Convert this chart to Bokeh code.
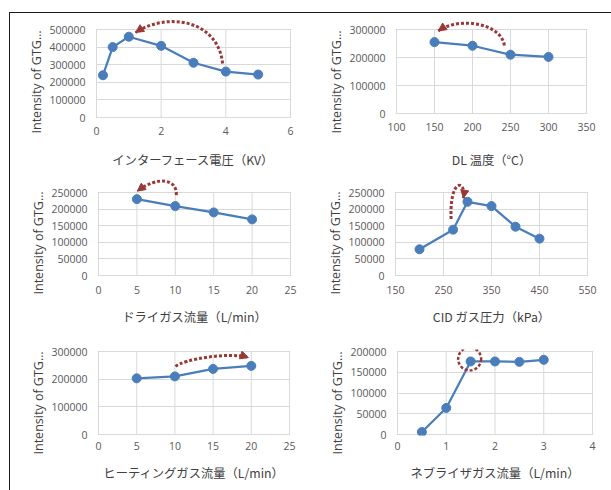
from bokeh.plotting import figure
from bokeh.layouts import column, row
from bokeh.models import Range1d, FixedTicker, BasicTickFormatter, Title, Arrow, NormalHead
from bokeh.embed import file_html
from bokeh.resources import INLINE

# ---------------- data ----------------
interface_kv = [0.2, 0.5, 1, 2, 3, 4, 5]
interface_int = [240000, 400000, 459000, 407000, 311000, 261000, 244000]

dl_temp_c = [150, 200, 250, 300]
dl_int = [255000, 242000, 210000, 202000]

dry_gas_lmin = [5, 10, 15, 20]
dry_int = [230000, 209000, 190000, 169000]

cid_kpa = [200, 270, 300, 350, 400, 450]
cid_int = [79000, 138000, 222000, 209000, 147000, 111000]

heat_gas_lmin = [5, 10, 15, 20]
heat_int = [203000, 210000, 237000, 248000]

neb_gas_lmin = [0.5, 1, 1.5, 2, 2.5, 3]
neb_int = [6000, 64000, 176000, 176000, 175000, 180000]

x_titles = ["インターフェース電圧（KV）", "DL 温度（°C）", "ドライガス流量（L/min）",
            "CID ガス圧力（kPa）", "ヒーティングガス流量（L/min）", "ネブライザガス流量（L/min）"]
y_title = "Intensity of GTG…"

x_ticks = [[0, 2, 4, 6], [100, 150, 200, 250, 300, 350], [0, 5, 10, 15, 20, 25],
           [150, 250, 350, 450, 550], [0, 5, 10, 15, 20, 25], [0, 1, 2, 3, 4]]
y_ticks = [[0, 100000, 200000, 300000, 400000, 500000], [0, 100000, 200000, 300000],
           [0, 50000, 100000, 150000, 200000, 250000], [0, 50000, 100000, 150000, 200000, 250000],
           [0, 100000, 200000, 300000], [0, 50000, 100000, 150000, 200000]]

# ---------------- style ----------------
BLUE = "#4A7EBB"
RED = "#9A3835"
GRID = "#D9D9D9"
TICK = "#595959"
LABEL = "#404040"


def panel(xs, ys, xt, yt, xlabel, w, h, bl, br, bt, bb, head, below,
          toff, lstand, tstand):
    """bt: fig top -> plot-area top, bb: zero line -> fig bottom,
    head: px of free room above plot area, below: px of free room under zero line"""
    plot_w = w - bl - br
    plot_h = h - bt - bb
    ymax = yt[-1]
    xpad = (xt[-1] - xt[0]) / plot_w
    ybot = -ymax * (below + 1) / plot_h
    ytop = ymax * (plot_h + head) / plot_h
    p = figure(width=w, height=h,
               x_range=Range1d(xt[0] - xpad, xt[-1] + xpad),
               y_range=Range1d(ybot, ytop),
               min_border_left=bl - 1, min_border_right=br - 1,
               min_border_top=bt - head, min_border_bottom=bb - 1 - below,
               toolbar_location=None, output_backend="svg",
               outline_line_color=None, background_fill_color="white",
               border_fill_color="white")
    p.xgrid.visible = False
    p.ygrid.ticker = FixedTicker(ticks=yt)
    p.ygrid.grid_line_color = GRID
    p.ygrid.grid_line_width = 1
    # plot-area border and inner vertical gridlines
    p.quad(left=xt[0], right=xt[-1], bottom=0, top=ymax,
           fill_color=None, line_color=GRID, line_width=1)
    inner = xt[1:-1]
    p.segment(x0=inner, x1=inner, y0=[0] * len(inner), y1=[ymax] * len(inner),
              line_color=GRID, line_width=1)

    for ax in (p.xaxis, p.yaxis):
        ax.axis_line_color = None
        ax.major_tick_line_color = None
        ax.minor_tick_line_color = None
        ax.major_tick_out = 0
        ax.major_tick_in = 0
        ax.major_label_text_font = "Open Sans"
        ax.major_label_text_font_size = "10.5px"
        ax.major_label_text_color = TICK
    p.xaxis.ticker = FixedTicker(ticks=xt)
    p.yaxis.ticker = FixedTicker(ticks=yt)
    p.yaxis.formatter = BasicTickFormatter(use_scientific=False)
    p.xaxis.formatter = BasicTickFormatter(use_scientific=False)
    p.xaxis.major_label_standoff = lstand
    p.yaxis.major_label_standoff = 10
    p.xaxis.axis_label = xlabel
    p.xaxis.axis_label_text_font = "Noto Sans CJK JP"
    p.xaxis.axis_label_text_font_size = "12.3px"
    p.xaxis.axis_label_text_font_style = "normal"
    p.xaxis.axis_label_text_color = LABEL
    p.xaxis.axis_label_standoff = tstand

    t = Title(text=y_title, align="left", offset=toff, text_font="Open Sans",
              text_font_size="12.5px", text_font_style="normal", text_color=LABEL,
              standoff=4)
    p.add_layout(t, "left")

    p.line(xs, ys, line_color=BLUE, line_width=2.25)
    p.scatter(xs, ys, size=9, fill_color=BLUE, line_color=BLUE)
    return p


def curve(p, p0, c0, c1, p3, head=True):
    p.bezier(x0=[p0[0]], y0=[p0[1]], cx0=[c0[0]], cy0=[c0[1]],
             cx1=[c1[0]], cy1=[c1[1]], x1=[p3[0]], y1=[p3[1]],
             line_color=RED, line_width=3, line_dash="3 2")
    if head:
        p.add_layout(Arrow(x_start=c1[0], y_start=c1[1], x_end=p3[0], y_end=p3[1],
                           line_alpha=0,
                           end=NormalHead(size=8, fill_color=RED, line_color=RED)))


# row 1: 164 px, row 2: 158 px, row 3: 155 px
p1 = panel(interface_kv, interface_int, x_ticks[0], y_ticks[0], x_titles[0],
           295, 164, 86, 15, 16, 60, 12, 0, -15, 8, 13)
curve(p1, (3.90, 307000), (3.75, 562000), (2.14, 597000), (1.21, 483000))

p2 = panel(dl_temp_c, dl_int, x_ticks[1], y_ticks[1], x_titles[1],
           306, 164, 91, 25, 16, 64, 12, 4, -15, 4, 17)
curve(p2, (242, 243000), (237, 325000), (182, 346000), (155, 295000))

p3 = panel(dry_gas_lmin, dry_int, x_ticks[2], y_ticks[2], x_titles[2],
           295, 158, 88, 15, 15, 60, 14, 0, -18, 9, 11)
curve(p3, (10.13, 242000), (10.27, 290000), (7.78, 302000), (5.05, 254000))

p4 = panel(cid_kpa, cid_int, x_ticks[3], y_ticks[3], x_titles[3],
           306, 158, 90, 24, 15, 60, 14, 0, -18, 9, 11)
curve(p4, (265.8, 170000), (262.3, 296000), (297.8, 290000), (291.5, 233000))

p5 = panel(heat_gas_lmin, heat_int, x_ticks[4], y_ticks[4], x_titles[4],
           295, 155, 88, 16, 16, 56, 2, 0, -19, 6, 11)
curve(p5, (10.09, 246000), (11.0, 271000), (17.27, 300000), (19.61, 278000))

p6 = panel(neb_gas_lmin, neb_int, x_ticks[5], y_ticks[5], x_titles[5],
           306, 155, 92, 19, 16, 56, 2, 0, -19, 6, 11)
p6.scatter([1.48], [182000], size=23, fill_color=None, line_color=RED,
           line_width=2.5, line_dash="3 2")

layout = column(row(p1, p2), row(p3, p4), row(p5, p6),
                margin=(12, 0, 0, 9),
                styles={"border-top": "1px solid #231815",
                        "border-left": "1px solid #231815"})

open("out.html", "w").write(file_html(layout, INLINE))
